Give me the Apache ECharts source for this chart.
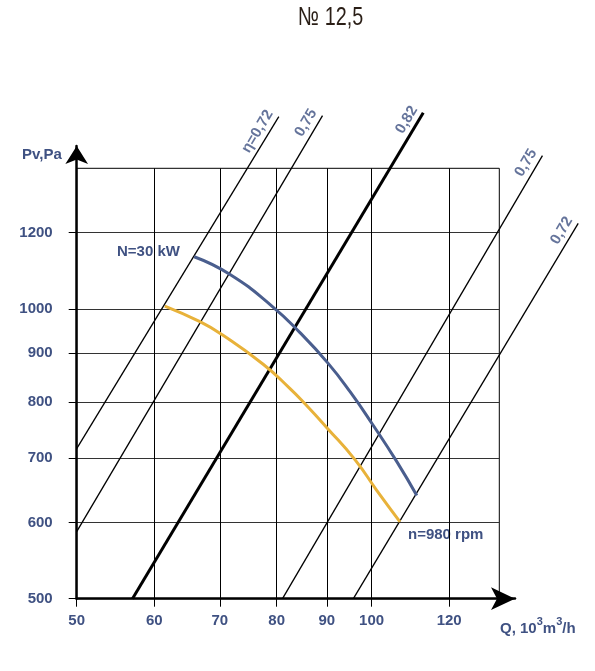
<!DOCTYPE html>
<html>
<head>
<meta charset="utf-8">
<script src="https://cdn.jsdelivr.net/npm/echarts@6/dist/echarts.min.js"></script>
<style>
html, body { margin: 0; padding: 0; background: #fff; }
#chart { width: 595px; height: 671px; }
</style>
</head>
<body>
<div id="chart"></div>
<script>
// axis ranges and tick labels (log-log)
var xRange = [50, 135];
var yRange = [500, 1400];
var xTicks = [50, 60, 70, 80, 90, 100, 120];
var yTicks = [500, 600, 700, 800, 900, 1000, 1200];

// efficiency lines: start and end point [Q, Pv]
var etaNames = ['η=0,72', '0,75', '0,82', '0,75', '0,72'];
var etaFrom = [[50, 716], [50, 587], [57.0, 500], [81.1, 500], [95.8, 500]];
var etaTo = [[80.4, 1584], [89.1, 1588], [112.9, 1599], [149.4, 1443], [162.5, 1227]];

// N=30 kW curve
var powerQ = [65.9, 71.7, 79.1, 84.5, 90.2, 95.1, 100.2, 106.1, 111.2];
var powerP = [1133, 1086, 1007, 945, 879, 820, 759, 694, 640];

// n=980 rpm curve
var pressQ = [61.5, 66.8, 70.4, 77.5, 82.5, 85.5, 90.2, 96.2, 101.2, 106.9];
var pressP = [1007, 970, 940, 876, 827, 797, 751, 697, 648, 601];

var FONT = "'Liberation Sans', Arial, sans-serif";
var TXT = '#3f5182';

function pairs(xs, ys) {
	var out = [];
	for (var i = 0; i < xs.length; i++) out.push([xs[i], ys[i]]);
	return out;
}

var series = [];
// efficiency lines live on a wider, hidden grid so they can run past the frame
for (var i = 0; i < etaNames.length; i++) {
	series.push({
		type: 'line',
		xAxisIndex: 2, yAxisIndex: 2,
		data: [etaFrom[i], etaTo[i]],
		symbol: 'none',
		clip: false,
		silent: true,
		lineStyle: { color: '#000', width: i == 2 ? 3 : 1.3 }
	});
}
series.push({
	type: 'line',
	data: pairs(powerQ, powerP),
	smooth: 0.5,
	symbol: 'none',
	lineStyle: { color: '#4a5e8e', width: 3 }
});
series.push({
	type: 'line',
	data: pairs(pressQ, pressP),
	smooth: 0.5,
	symbol: 'none',
	lineStyle: { color: '#e8b23a', width: 3 }
});
// rotated efficiency labels at the top end of each line
series.push({
	type: 'scatter',
	xAxisIndex: 2, yAxisIndex: 2,
	clip: false,
	symbolSize: 1,
	itemStyle: { color: 'rgba(0,0,0,0)' },
	data: etaTo.map(function (p, i) {
		return { value: p, label: { formatter: etaNames[i] } };
	}),
	label: {
		show: true,
		position: 'inside',
		align: 'right',
		verticalAlign: 'bottom',
		rotate: 59,
		padding: [0, 0, 3, 0],
		color: TXT,
		fontFamily: FONT,
		fontWeight: 'bold',
		fontSize: 15
	}
});

var labelStyle = { color: TXT, fontFamily: FONT, fontWeight: 'bold', fontSize: 15, formatter: function (v) { return String(v); } };
var hidden = { axisLine: { show: false }, axisTick: { show: false }, axisLabel: { show: false }, splitLine: { show: false } };

var option = {
	animation: false,
	grid: [
		{ left: 76.7, right: 95.7, top: 168.3, bottom: 72.3, show: true, borderColor: '#000', borderWidth: 1 },
		{ left: 76.7, right: 80, top: 146, bottom: 72.3 },
		{ left: 76.7, right: 10.3, top: 168.3, bottom: 72.3 }
	],
	xAxis: [
		{
			type: 'log', gridIndex: 0, min: xRange[0], max: xRange[1],
			axisLine: { show: false },
			axisTick: { show: true, length: 8, customValues: xTicks, lineStyle: { color: '#000' } },
			axisLabel: Object.assign({ customValues: xTicks, margin: 15 }, labelStyle),
			splitLine: { show: true, lineStyle: { color: '#000', width: 1 } },
			minorTick: { show: false }, minorSplitLine: { show: false }
		},
		{
			type: 'value', gridIndex: 1, min: 0, max: 1,
			axisLine: { show: true, symbol: ['none', 'arrow'], symbolSize: [17, 24], lineStyle: { color: '#000', width: 2.5 } },
			axisTick: { show: false }, axisLabel: { show: false }, splitLine: { show: false }
		},
		Object.assign({ type: 'log', gridIndex: 2, min: 50, max: 165 }, hidden)
	],
	yAxis: [
		{
			type: 'log', gridIndex: 0, min: yRange[0], max: yRange[1],
			axisLine: { show: false },
			axisTick: { show: true, length: 8, customValues: yTicks, lineStyle: { color: '#000' } },
			axisLabel: Object.assign({ customValues: yTicks, margin: 24 }, labelStyle),
			splitLine: { show: true, lineStyle: { color: '#333', width: 1 } },
			minorTick: { show: false }, minorSplitLine: { show: false }
		},
		{
			type: 'value', gridIndex: 1, min: 0, max: 1,
			axisLine: { show: true, symbol: ['none', 'arrow'], symbolSize: [17, 18], lineStyle: { color: '#000', width: 2.5 } },
			axisTick: { show: false }, axisLabel: { show: false }, splitLine: { show: false }
		},
		Object.assign({ type: 'log', gridIndex: 2, min: yRange[0], max: yRange[1] }, hidden)
	],
	graphic: [
		{ type: 'text', x: 298, y: 18, scaleX: 0.76, style: { text: '№ 12,5', fill: '#2a1e16', font: '26px ' + FONT, verticalAlign: 'middle' } },
		{ type: 'text', x: 22, y: 155, style: { text: 'Pv,Pa', fill: TXT, font: 'bold 15px ' + FONT, verticalAlign: 'middle' } },
		{ type: 'text', x: 117, y: 252, style: { text: 'N=30 kW', fill: TXT, font: 'bold 15px ' + FONT, verticalAlign: 'middle' } },
		{ type: 'text', x: 408, y: 535, style: { text: 'n=980 rpm', fill: TXT, font: 'bold 15px ' + FONT, verticalAlign: 'middle' } },
		{
			type: 'text', x: 500, y: 616,
			style: {
				text: '{b|Q, 10}{s|3}{b|m}{s|3}{b|/h}',
				fill: TXT,
				rich: {
					b: { fontFamily: FONT, fontWeight: 'bold', fontSize: 15, lineHeight: 20, verticalAlign: 'bottom', fill: TXT },
					s: { fontFamily: FONT, fontWeight: 'bold', fontSize: 11, lineHeight: 11, verticalAlign: 'top', fill: TXT }
				}
			}
		}
	],
	series: series
};

var chart = echarts.init(document.getElementById('chart'));
chart.setOption(option);
</script>
</body>
</html>
